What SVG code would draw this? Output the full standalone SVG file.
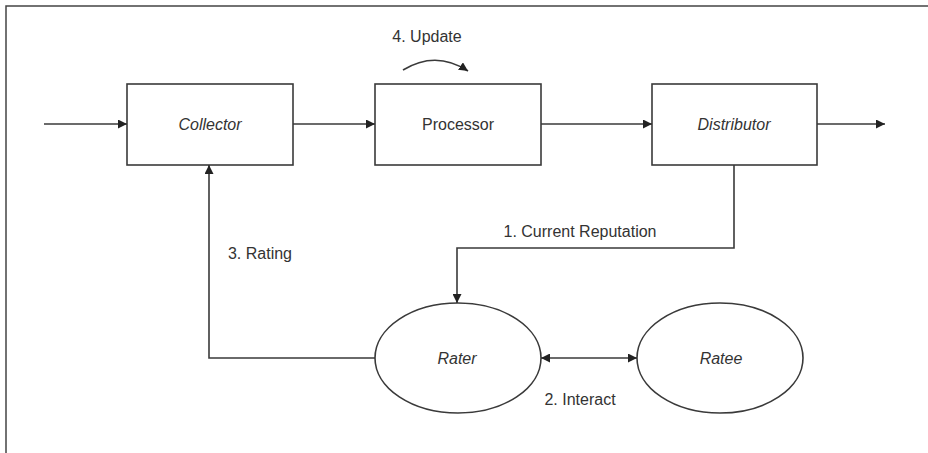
<svg xmlns="http://www.w3.org/2000/svg" width="928" height="453" viewBox="0 0 928 453">
<style>
.box{fill:#fff;stroke:#3a3a3a;stroke-width:1.6}
.ln{fill:none;stroke:#3a3a3a;stroke-width:1.6}
.t{font-family:"Liberation Sans",Arial,sans-serif;font-size:16px;fill:#333;text-anchor:middle}
.i{font-style:italic}
</style>
<defs>
<marker id="ah" viewBox="0 0 10 10" refX="10" refY="5" markerWidth="9" markerHeight="9" markerUnits="userSpaceOnUse" orient="auto-start-reverse">
<path d="M0,0 L10,5 L0,10 z" fill="#222"/>
</marker>
<marker id="ah2" viewBox="0 0 10 10" refX="10" refY="5" markerWidth="11" markerHeight="9" markerUnits="userSpaceOnUse" orient="auto-start-reverse">
<path d="M0,0 L10,5 L0,10 z" fill="#222"/>
</marker>
</defs>
<rect width="928" height="453" fill="#fff"/>
<path d="M6,453 V6 H928" fill="none" stroke="#444" stroke-width="1.5"/>
<g id="collector"><rect class="box" x="127" y="84" width="166" height="81"/><text class="t i" x="210" y="130">Collector</text></g>
<g id="processor"><rect class="box" x="375" y="84" width="166" height="81"/><text class="t" x="458" y="130">Processor</text></g>
<g id="distributor"><rect class="box" x="652" y="84" width="165" height="81"/><text class="t i" x="734" y="130">Distributor</text></g>
<g id="rater"><ellipse class="box" cx="458" cy="358" rx="83" ry="55"/><text class="t i" x="457" y="364">Rater</text></g>
<g id="ratee"><ellipse class="box" cx="720" cy="358" rx="83" ry="55"/><text class="t i" x="721" y="364">Ratee</text></g>
<g id="connectors">
<line class="ln" x1="44" y1="124" x2="127" y2="124" marker-end="url(#ah)"/>
<line class="ln" x1="293" y1="124" x2="375" y2="124" marker-end="url(#ah)"/>
<line class="ln" x1="541" y1="124" x2="652" y2="124" marker-end="url(#ah)"/>
<line class="ln" x1="817" y1="124" x2="885" y2="124" marker-end="url(#ah)"/>
<polyline class="ln" points="734,165 734,248 457,248 457,303" marker-end="url(#ah)"/>
<polyline class="ln" points="375,358 209,358 209,165" marker-end="url(#ah)"/>
<line class="ln" x1="541" y1="358" x2="637" y2="358" stroke-width="2.5" marker-start="url(#ah2)" marker-end="url(#ah2)"/>
<path class="ln" d="M403,70 Q436,50 468,71" marker-end="url(#ah)"/>
<text class="t" x="427" y="42">4. Update</text>
<text class="t" x="580" y="237">1. Current Reputation</text>
<text class="t" x="260" y="259">3. Rating</text>
<text class="t" x="580" y="405">2. Interact</text>
</g>
</svg>
